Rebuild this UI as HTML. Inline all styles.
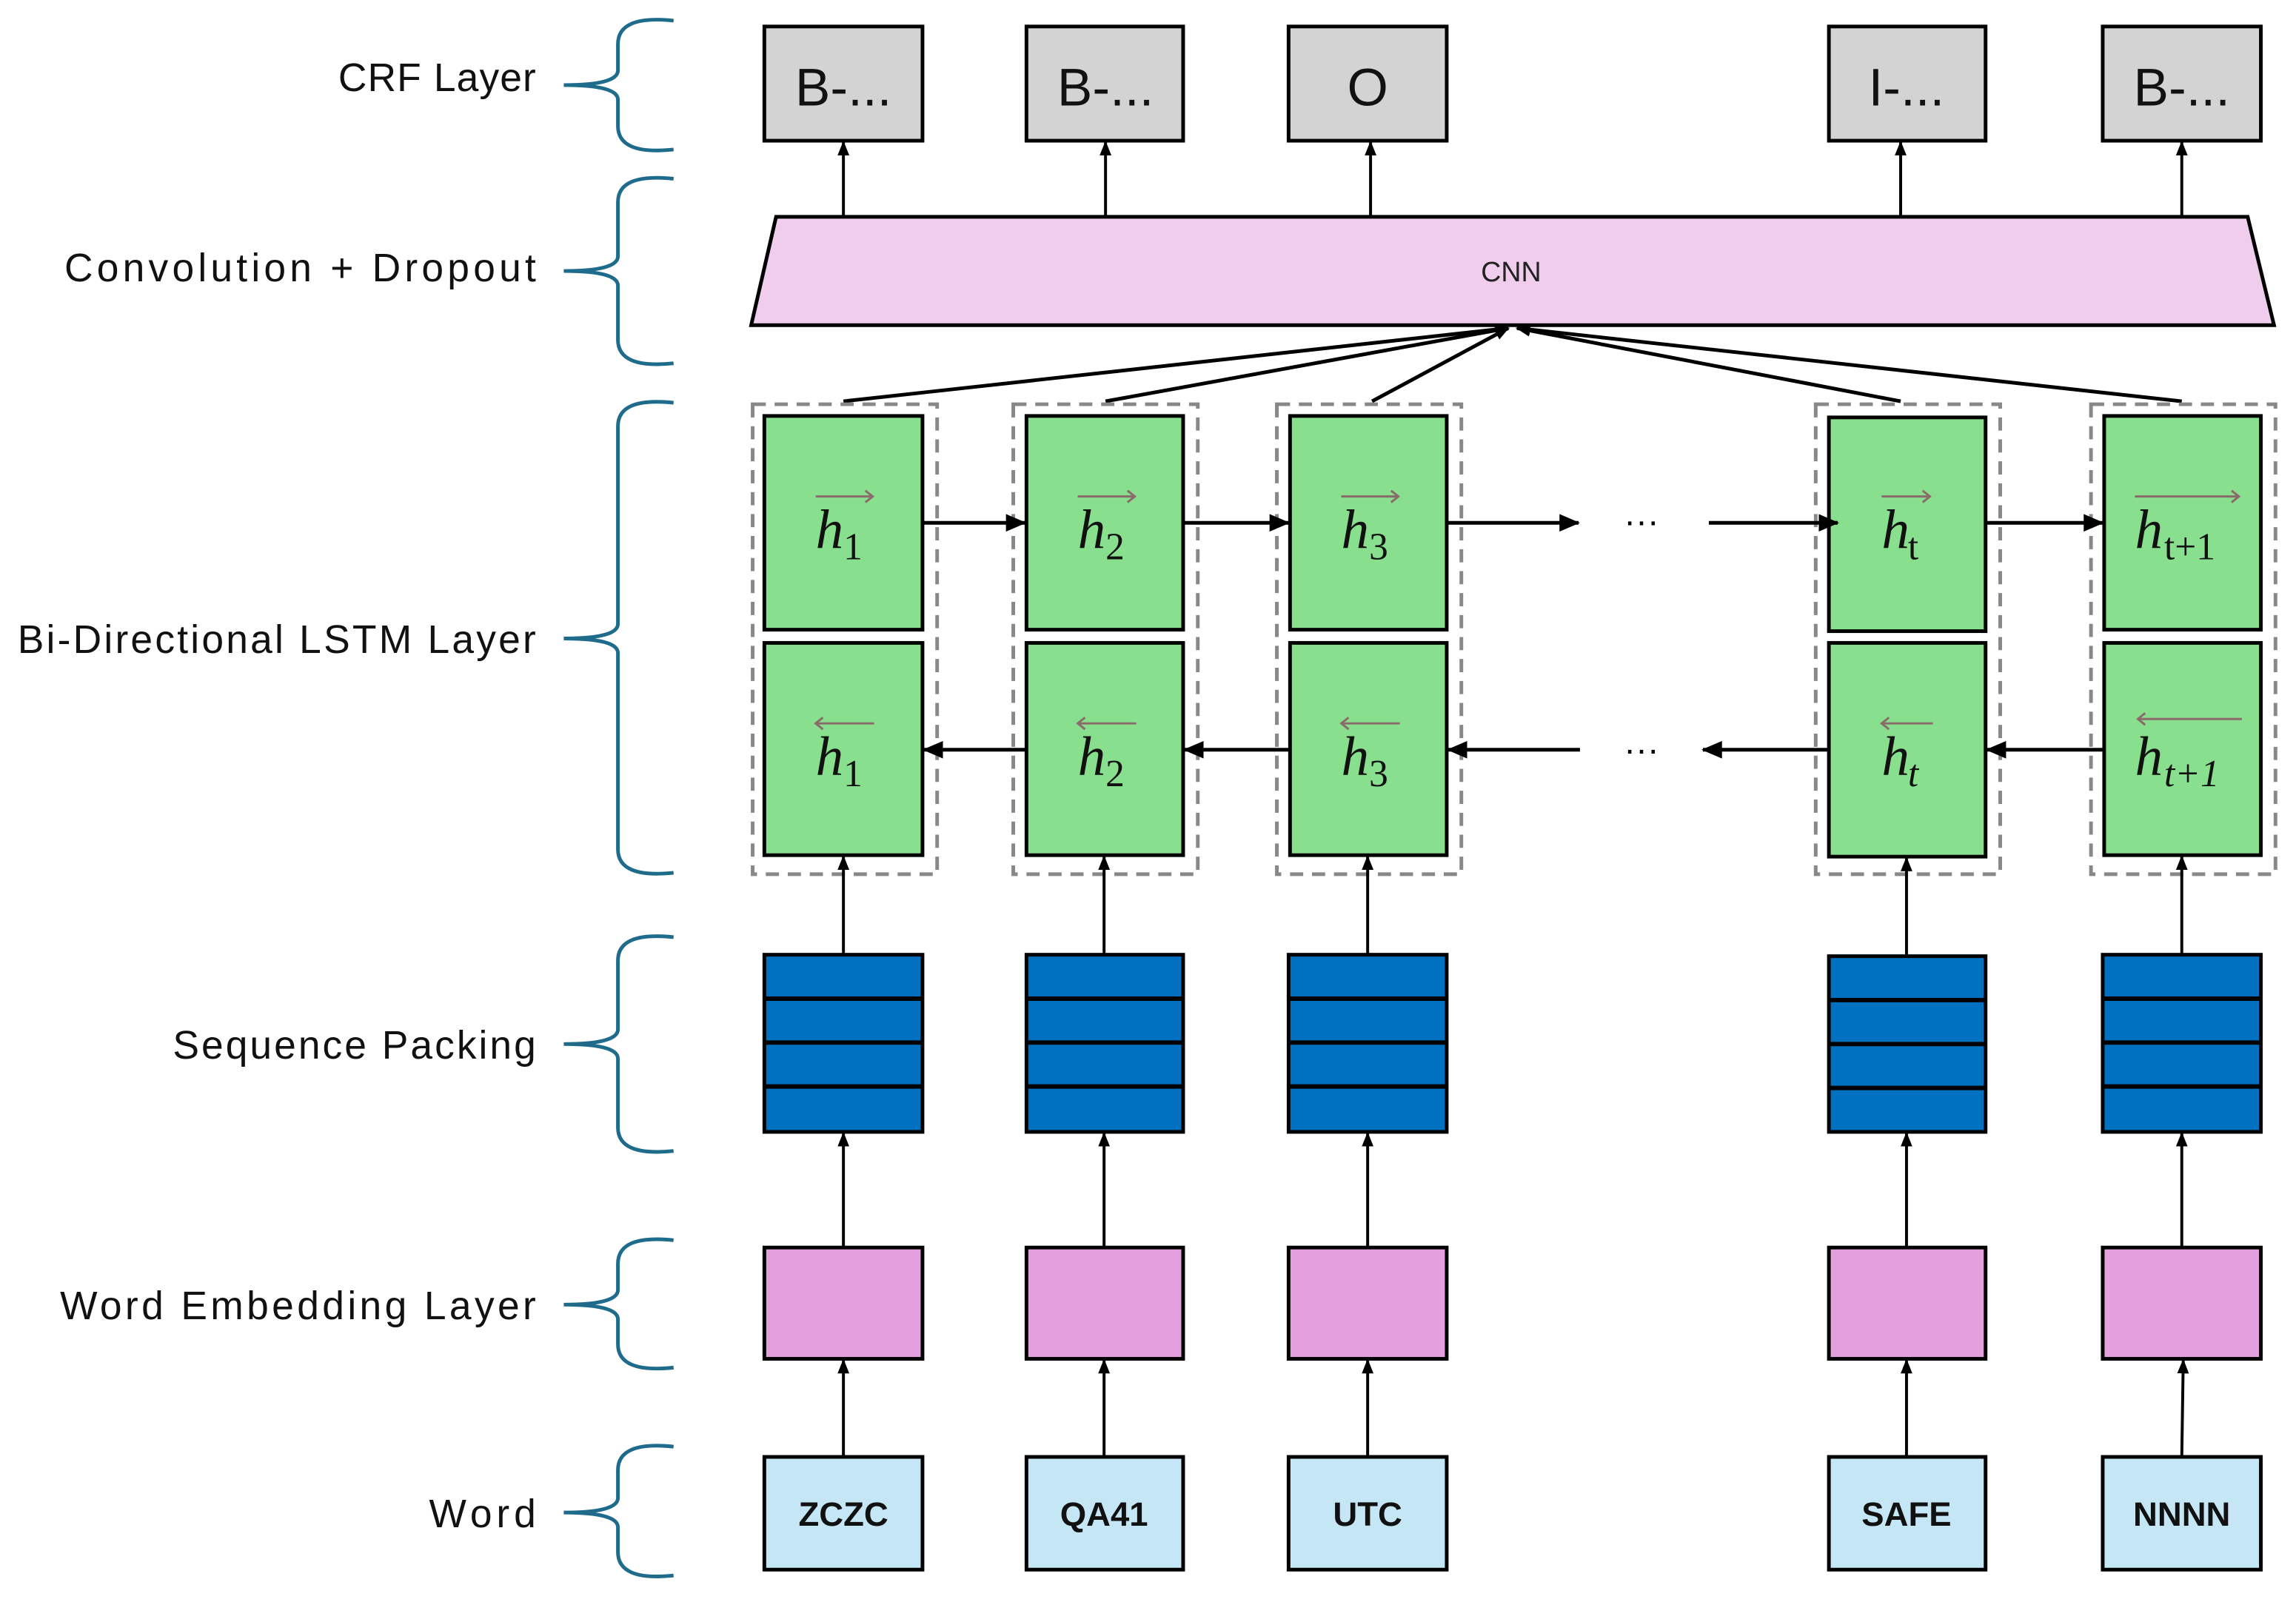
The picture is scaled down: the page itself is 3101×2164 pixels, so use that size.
<!DOCTYPE html>
<html><head><style>html,body{margin:0;padding:0;background:#fff}svg{display:block}</style></head>
<body>
<svg width="3101" height="2164" viewBox="0 0 1568 1094" xmlns="http://www.w3.org/2000/svg" font-family="Liberation Sans, sans-serif">
<defs>
<marker id="a" markerWidth="10" markerHeight="10" refX="9" refY="5" orient="auto" markerUnits="userSpaceOnUse"><path d="M0,1 L10,5 L0,9 z" fill="#000"/></marker>
<marker id="b" markerWidth="14" markerHeight="12" refX="13" refY="6" orient="auto" markerUnits="userSpaceOnUse"><path d="M0,0 L14,6 L0,12 z" fill="#000"/></marker>
</defs>
<!-- braces -->
<g fill="none" stroke="#1f6b8c" stroke-width="2.5">
<path d="M460,14 Q422,10 422,30 L422,48 Q422,58 385,58 Q422,58 422,68 L422,86 Q422,106 460,102"/>
<path d="M460,122 Q422,118 422,138 L422,175 Q422,185 385,185 Q422,185 422,195 L422,232 Q422,252 460,248"/>
<path d="M460,275 Q422,271 422,291 L422,426 Q422,436 385,436 Q422,436 422,446 L422,580 Q422,600 460,596"/>
<path d="M460,640 Q422,636 422,656 L422,703 Q422,713 385,713 Q422,713 422,723 L422,770 Q422,790 460,786"/>
<path d="M460,847 Q422,843 422,863 L422,881 Q422,891 385,891 Q422,891 422,901 L422,918 Q422,938 460,934"/>
<path d="M460,988 Q422,984 422,1004 L422,1023 Q422,1033 385,1033 Q422,1033 422,1043 L422,1060 Q422,1080 460,1076"/>
</g>
<g font-size="27" fill="#111">
<text x="231" y="62" textLength="135" lengthAdjust="spacing">CRF Layer</text>
<text x="44" y="192" textLength="322" lengthAdjust="spacing">Convolution + Dropout</text>
<text x="12" y="446" textLength="354" lengthAdjust="spacing">Bi-Directional LSTM Layer</text>
<text x="118" y="723" textLength="248" lengthAdjust="spacing">Sequence Packing</text>
<text x="41" y="901" textLength="325" lengthAdjust="spacing">Word Embedding Layer</text>
<text x="293" y="1043" textLength="73" lengthAdjust="spacing">Word</text>
</g>
<!-- CRF boxes -->
<g fill="#d3d3d3" stroke="#000" stroke-width="2.5">
<rect x="522" y="18" width="108" height="78"/><rect x="701" y="18" width="107" height="78"/><rect x="880" y="18" width="108" height="78"/><rect x="1249" y="18" width="107" height="78"/><rect x="1436" y="18" width="108" height="78"/>
</g>
<g font-size="36" text-anchor="middle" fill="#111">
<text x="576" y="72">B-...</text><text x="755" y="72">B-...</text><text x="934" y="72">O</text><text x="1302" y="72">I-...</text><text x="1490" y="72">B-...</text>
</g>
<!-- CNN -->
<path d="M530,148 L1535,148 L1553,222 L513,222 Z" fill="#f0cdec" stroke="#000" stroke-width="2.5"/>
<text x="1032" y="192" font-size="19" text-anchor="middle" fill="#222">CNN</text>
<g stroke="#000" stroke-width="2" marker-end="url(#a)">
<line x1="576" y1="148" x2="576" y2="97"/><line x1="755" y1="148" x2="755" y2="97"/><line x1="936" y1="148" x2="936" y2="97"/><line x1="1298" y1="148" x2="1298" y2="97"/><line x1="1490" y1="148" x2="1490" y2="97"/>
</g>
<g stroke="#000" stroke-width="2.5" marker-end="url(#a)">
<line x1="576" y1="274" x2="1030" y2="224"/><line x1="755" y1="274" x2="1030" y2="224"/><line x1="937" y1="274" x2="1030" y2="224"/><line x1="1298" y1="274" x2="1036" y2="224"/><line x1="1490" y1="274" x2="1036" y2="224"/>
</g>
<!-- dashed groups -->
<g fill="none" stroke="#888" stroke-width="2.5" stroke-dasharray="9,6">
<rect x="514" y="276" width="126" height="321"/><rect x="692" y="276" width="126" height="321"/><rect x="872" y="276" width="126" height="321"/><rect x="1240" y="276" width="126" height="321"/><rect x="1428" y="276" width="126" height="321"/>
</g>
<g fill="#88e08e" stroke="#000" stroke-width="2.5">
<rect x="522" y="284" width="108" height="146"/><rect x="701" y="284" width="107" height="146"/><rect x="881" y="284" width="107" height="146"/><rect x="1249" y="285" width="107" height="146"/><rect x="1437" y="284" width="107" height="146"/>
<rect x="522" y="439" width="108" height="145"/><rect x="701" y="439" width="107" height="145"/><rect x="881" y="439" width="107" height="145"/><rect x="1249" y="439" width="107" height="146"/><rect x="1437" y="439" width="107" height="145"/>
</g>
<!-- math labels -->
<g font-family="Liberation Serif, serif" fill="#111">
<g font-size="38" font-style="italic">
<text x="557" y="374">h</text><text x="736" y="374">h</text><text x="916" y="374">h</text><text x="1285" y="374">h</text><text x="1458" y="374">h</text>
<text x="557" y="529">h</text><text x="736" y="529">h</text><text x="916" y="529">h</text><text x="1285" y="529">h</text><text x="1458" y="529">h</text>
</g>
<g font-size="26">
<text x="576" y="382">1</text><text x="755" y="382">2</text><text x="935" y="382">3</text><text x="1303" y="382">t</text><text x="1478" y="382">t+1</text>
<text x="576" y="537">1</text><text x="755" y="537">2</text><text x="935" y="537">3</text><text x="1303" y="537" font-style="italic">t</text><text x="1478" y="537" font-style="italic">t+1</text>
</g>
</g>
<g stroke="#8a6a6a" stroke-width="1.5" fill="none">
<path d="M557,339 L596,339 M591,335 L596,339 L591,343"/><path d="M736,339 L775,339 M770,335 L775,339 L770,343"/><path d="M916,339 L955,339 M950,335 L955,339 L950,343"/><path d="M1285,339 L1318,339 M1313,335 L1318,339 L1313,343"/><path d="M1458,339 L1529,339 M1524,335 L1529,339 L1524,343"/>
<path d="M557,494 L597,494 M562,490 L557,494 L562,498"/><path d="M736,494 L776,494 M741,490 L736,494 L741,498"/><path d="M916,494 L956,494 M921,490 L916,494 L921,498"/><path d="M1285,494 L1320,494 M1290,490 L1285,494 L1290,498"/><path d="M1460,491 L1531,491 M1465,487 L1460,491 L1465,495"/>
</g>
<!-- horizontal arrows -->
<g stroke="#000" stroke-width="2.5" marker-end="url(#b)">
<line x1="630" y1="357" x2="700" y2="357"/><line x1="808" y1="357" x2="880" y2="357"/><line x1="988" y1="357" x2="1078" y2="357"/><line x1="1167" y1="357" x2="1255" y2="357"/><line x1="1356" y1="357" x2="1436" y2="357"/>
<line x1="701" y1="512" x2="631" y2="512"/><line x1="881" y1="512" x2="809" y2="512"/><line x1="1079" y1="512" x2="989" y2="512"/><line x1="1249" y1="512" x2="1163" y2="512"/><line x1="1437" y1="512" x2="1357" y2="512"/>
</g>
<text x="1121" y="364" font-size="24" text-anchor="middle">···</text>
<text x="1121" y="520" font-size="24" text-anchor="middle">···</text>
<!-- vertical arrows -->
<g stroke="#000" stroke-width="2" marker-end="url(#a)">
<line x1="576" y1="652" x2="576" y2="585"/><line x1="754" y1="652" x2="754" y2="585"/><line x1="934" y1="652" x2="934" y2="585"/><line x1="1302" y1="652" x2="1302" y2="586"/><line x1="1490" y1="652" x2="1490" y2="585"/>
<line x1="576" y1="852" x2="576" y2="774"/><line x1="754" y1="852" x2="754" y2="774"/><line x1="934" y1="852" x2="934" y2="774"/><line x1="1302" y1="852" x2="1302" y2="774"/><line x1="1490" y1="852" x2="1490" y2="774"/>
<line x1="576" y1="995" x2="576" y2="929"/><line x1="754" y1="995" x2="754" y2="929"/><line x1="934" y1="995" x2="934" y2="929"/><line x1="1302" y1="995" x2="1302" y2="929"/><line x1="1490" y1="995" x2="1491" y2="929"/>
</g>
<!-- sequence packing -->
<g fill="#0070c0" stroke="#000" stroke-width="2.5">
<rect x="522" y="652" width="108" height="121"/><rect x="701" y="652" width="107" height="121"/><rect x="880" y="652" width="108" height="121"/><rect x="1249" y="653" width="107" height="120"/><rect x="1436" y="652" width="108" height="121"/>
</g>
<g stroke="#000" stroke-width="3">
<path d="M522,682H630M522,712H630M522,742H630"/>
<path d="M701,682H808M701,712H808M701,742H808"/>
<path d="M880,682H988M880,712H988M880,742H988"/>
<path d="M1249,683H1356M1249,713H1356M1249,743H1356"/>
<path d="M1436,682H1544M1436,712H1544M1436,742H1544"/>
</g>
<!-- embedding -->
<g fill="#e4a0dc" stroke="#000" stroke-width="2.5">
<rect x="522" y="852" width="108" height="76"/><rect x="701" y="852" width="107" height="76"/><rect x="880" y="852" width="108" height="76"/><rect x="1249" y="852" width="107" height="76"/><rect x="1436" y="852" width="108" height="76"/>
</g>
<!-- words -->
<g fill="#c5e6f5" stroke="#000" stroke-width="2.5">
<rect x="522" y="995" width="108" height="77"/><rect x="701" y="995" width="107" height="77"/><rect x="880" y="995" width="108" height="77"/><rect x="1249" y="995" width="107" height="77"/><rect x="1436" y="995" width="108" height="77"/>
</g>
<g font-size="23" font-weight="bold" text-anchor="middle" fill="#111">
<text x="576" y="1042">ZCZC</text><text x="754" y="1042">QA41</text><text x="934" y="1042">UTC</text><text x="1302" y="1042">SAFE</text><text x="1490" y="1042">NNNN</text>
</g>
</svg>
</body></html>
